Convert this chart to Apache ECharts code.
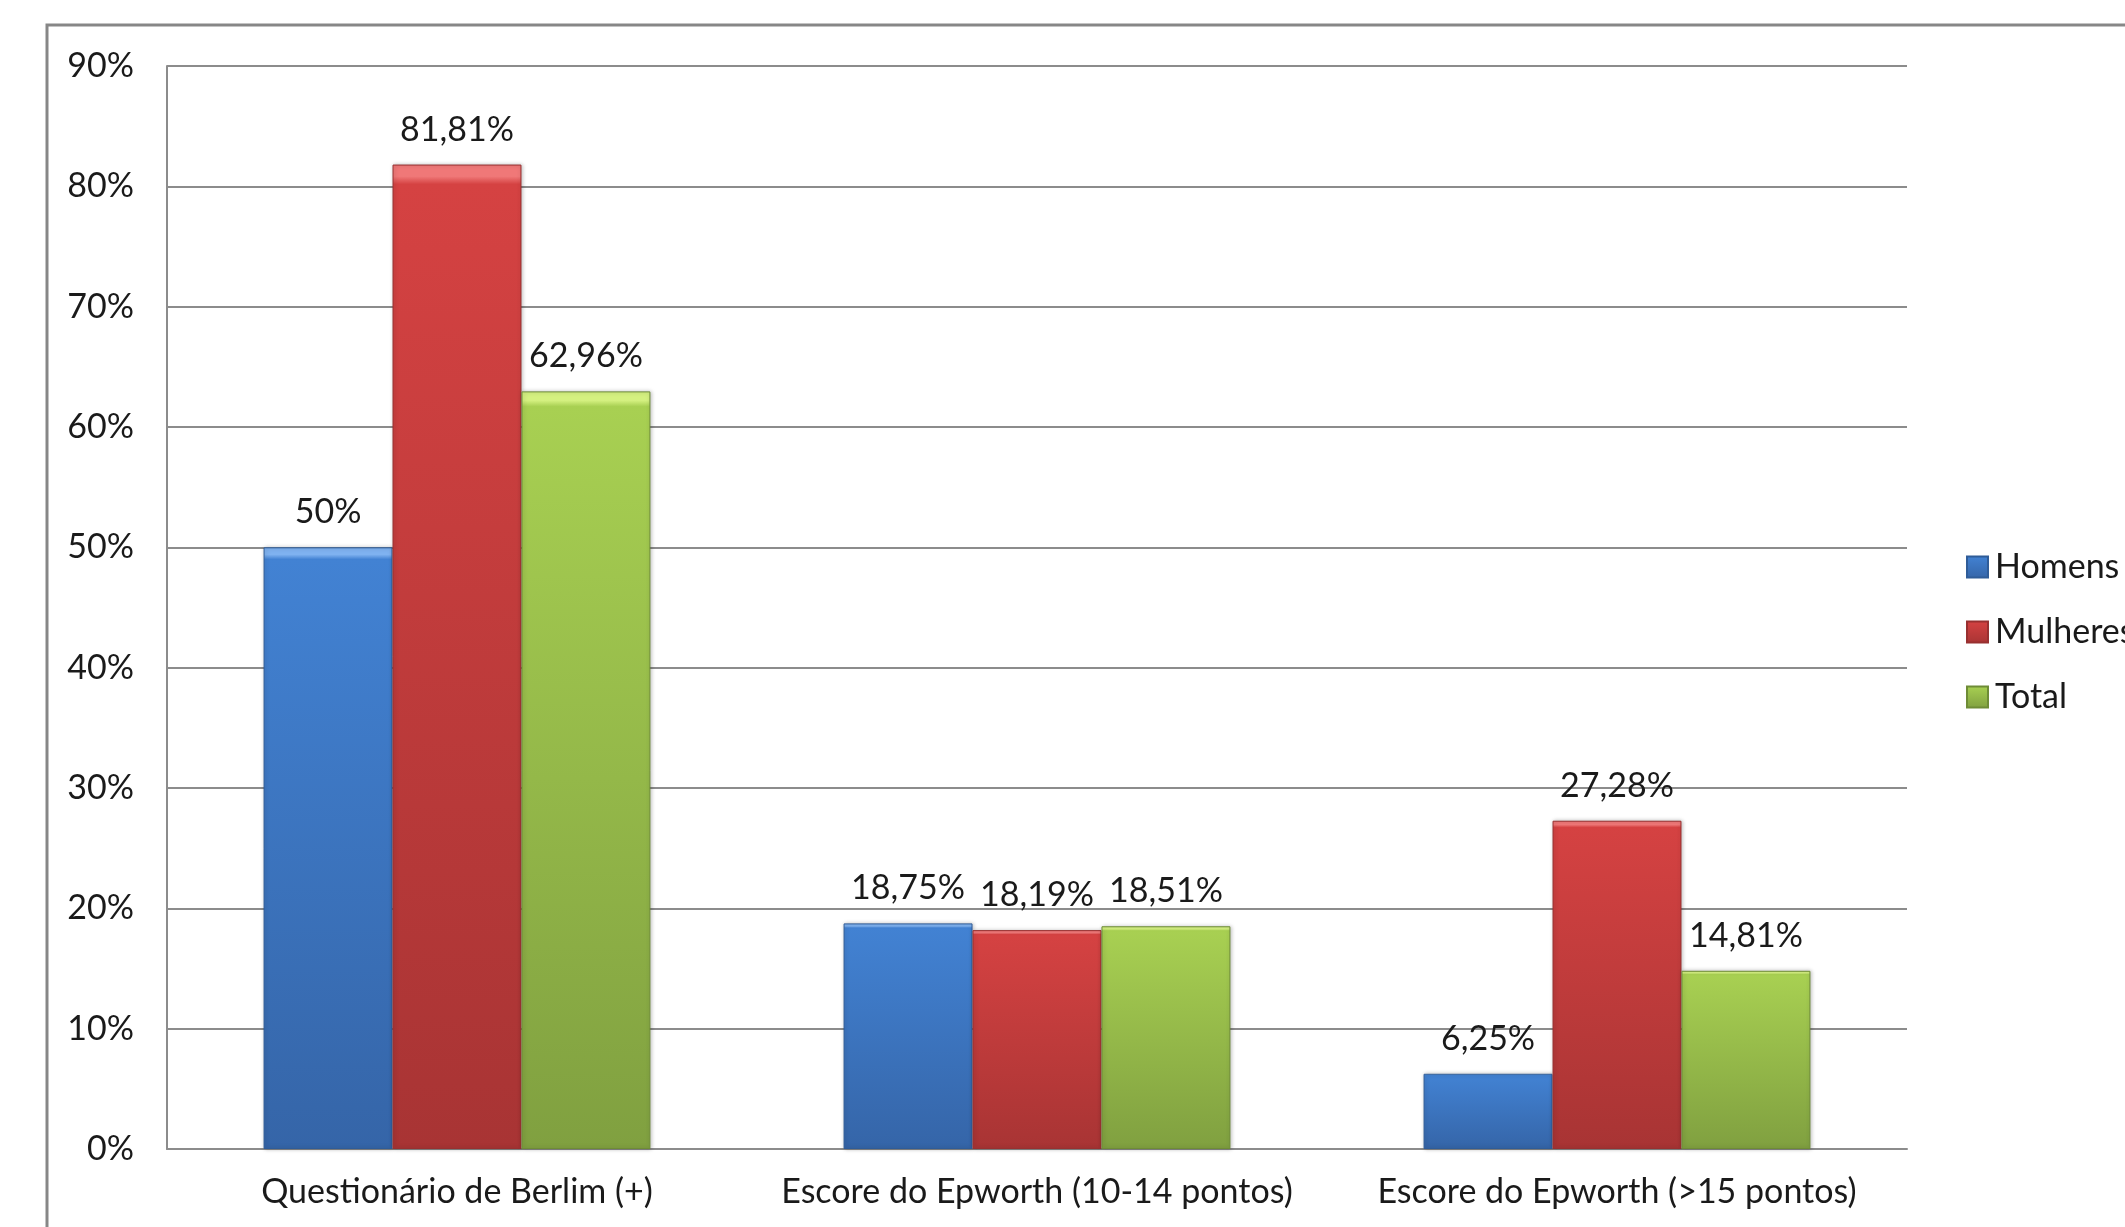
<!DOCTYPE html>
<html><head><meta charset="utf-8">
<script src="https://cdn.jsdelivr.net/npm/echarts@6/dist/echarts.min.js"></script>
<style>html,body{margin:0;padding:0;background:#fff}#c{width:2125px;height:1227px}</style>
</head><body><div id="c"></div>
<script>
const categories = ['Questionário de Berlim (+)', 'Escore do Epworth (10-14 pontos)', 'Escore do Epworth (>15 pontos)'];
const homens = [50, 18.75, 6.25];
const mulheres = [81.81, 18.19, 27.28];
const total = [62.96, 18.51, 14.81];
const yTicks = [0, 10, 20, 30, 40, 50, 60, 70, 80, 90];

const FONT = 'Lato';
const FS = 34;
function grad(top, mid, bot) {
  return new echarts.graphic.LinearGradient(0, 0, 0, 1, [
    {offset: 0, color: top}, {offset: 0.012, color: top}, {offset: 0.02, color: mid}, {offset: 1, color: bot}
  ]);
}
function fmt(v) { return String(v).replace('.', ',') + '%'; }
const label = {show: true, position: 'top', distance: 18, fontFamily: FONT, fontSize: FS, color: '#1a1a1a', formatter: p => fmt(p.value)};
function mk(name, data, colors, border) {
  return {
    name, type: 'bar', data, barGap: '0%', barCategoryGap: '33.3%',
    itemStyle: {color: grad(colors[0], colors[1], colors[2]), borderColor: border, borderWidth: 1,
      shadowColor: 'rgba(0,0,0,0.25)', shadowBlur: 4, shadowOffsetX: 1},
    label
  };
}
const chart = echarts.init(document.getElementById('c'));
chart.setOption({
  animation: false,
  graphic: [{type: 'rect', shape: {x: 47, y: 25, width: 2300, height: 1400}, style: {fill: 'none', stroke: '#878787', lineWidth: 3}}],
  grid: {left: 167, right: 218, top: 66, bottom: 78},
  legend: {
    orient: 'vertical', left: 1961, top: 545, itemWidth: 21, itemHeight: 21, itemGap: 31,
    icon: 'rect', textStyle: {fontFamily: FONT, fontSize: FS, color: '#1a1a1a', padding: [0, 0, 0, 2]},
    data: ['Homens', 'Mulheres', 'Total']
  },
  xAxis: {
    type: 'category', data: categories,
    axisLine: {lineStyle: {color: '#8c8c8c', width: 2}}, axisTick: {show: false},
    axisLabel: {fontFamily: FONT, fontSize: FS, color: '#1a1a1a', margin: 26, interval: 0}
  },
  yAxis: {
    type: 'value', min: yTicks[0], max: yTicks[yTicks.length - 1], interval: 10,
    axisLine: {show: true, lineStyle: {color: '#8c8c8c', width: 2}}, axisTick: {show: false},
    splitLine: {lineStyle: {color: '#8c8c8c', width: 2}},
    axisLabel: {fontFamily: FONT, fontSize: FS, color: '#1a1a1a', margin: 33, formatter: v => v + '%'}
  },
  series: [
    mk('Homens', homens, ['#7fb2f0', '#4282d3', '#3565a8'], '#2f5c98'),
    mk('Mulheres', mulheres, ['#f07878', '#d54242', '#a83434'], '#983030'),
    mk('Total', total, ['#d4f080', '#a8d052', '#80a040'], '#6e8c36')
  ]
});
</script></body></html>
